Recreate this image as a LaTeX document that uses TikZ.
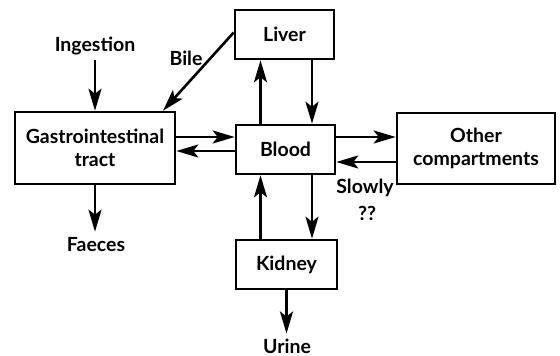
\documentclass[tikz,border=0pt]{standalone}
\usepackage{fontspec}
\setmainfont{Lato}
\usetikzlibrary{arrows.meta,calc}
\begin{document}
\begin{tikzpicture}[x=1pt,y=-1pt,
  txt/.style={font=\fontsize{19.5}{23}\selectfont\bfseries, inner sep=0pt, align=center},
  box/.style={txt, draw, line width=2.6pt},
  arr/.style={line width=2.6pt, -{Stealth[length=22pt,width=13pt,inset=5pt]}}]
\useasboundingbox (0,0) rectangle (560,356);
\node[box, minimum width=99pt, minimum height=49pt] (liver) at (284.5,34.5) {Liver};
\node[box, minimum width=99pt, minimum height=49pt] (blood) at (285.5,149.5) {Blood};
\node[box, minimum width=160pt, minimum height=72pt] (gi) at (95,148) {Gastrointestinal\\tract};
\node[box, minimum width=158pt, minimum height=71pt] (other) at (476,148.5) {Other\\compartments};
\node[box, minimum width=101pt, minimum height=49pt] (kidney) at (286.5,264.5) {Kidney};
\node[txt] (ing) at (95,46) {Ingestion};
\node[txt] (bile) at (186,58) {Bile};
\node[txt] (faeces) at (96,245) {Faeces};
\node[txt] (urine) at (287,346) {Urine};
\node[txt] (slowly) at (365,188) {Slowly};
\node[txt] (qq) at (367,213) {??};
% liver-blood
\coordinate (bu) at ([xshift=-25pt]blood.north);
\coordinate (bd) at ([xshift=26.5pt]blood.north);
\draw[arr] (bu) -- (bu |- liver.south);
\draw[arr] (bd |- liver.south) -- (bd);
% blood-kidney
\coordinate (ku) at ([xshift=-26pt]kidney.north);
\coordinate (kd) at ([xshift=25.5pt]kidney.north);
\draw[arr] (ku) -- (ku |- blood.south);
\draw[arr] (kd |- blood.south) -- (kd);
% gi-blood
\coordinate (g1) at ([yshift=12.5pt]blood.west);
\coordinate (g2) at ([yshift=-1.5pt]blood.west);
\draw[arr] (gi.east |- g1) -- (g1);
\draw[arr] (g2) -- (gi.east |- g2);
% blood-other
\coordinate (o1) at ([yshift=12.5pt]blood.east);
\coordinate (o2) at ([yshift=-12.5pt]blood.east);
\draw[arr] (o1) -- (other.west |- o1);
\draw[arr] (other.west |- o2) -- (o2);
% bile
\coordinate (bt) at (163,112);
\draw[arr] ([yshift=2pt]liver.west) -- (gi.north -| bt);
% ingestion, faeces, urine
\draw[arr] ([yshift=-5pt]ing.south) -- (gi.north -| ing);
\draw[arr] (gi.south) -- ([yshift=6pt]gi.south |- faeces.north);
\draw[arr] (kidney.south) -- ([yshift=5pt]kidney.south |- urine.north);
\end{tikzpicture}
\end{document}
